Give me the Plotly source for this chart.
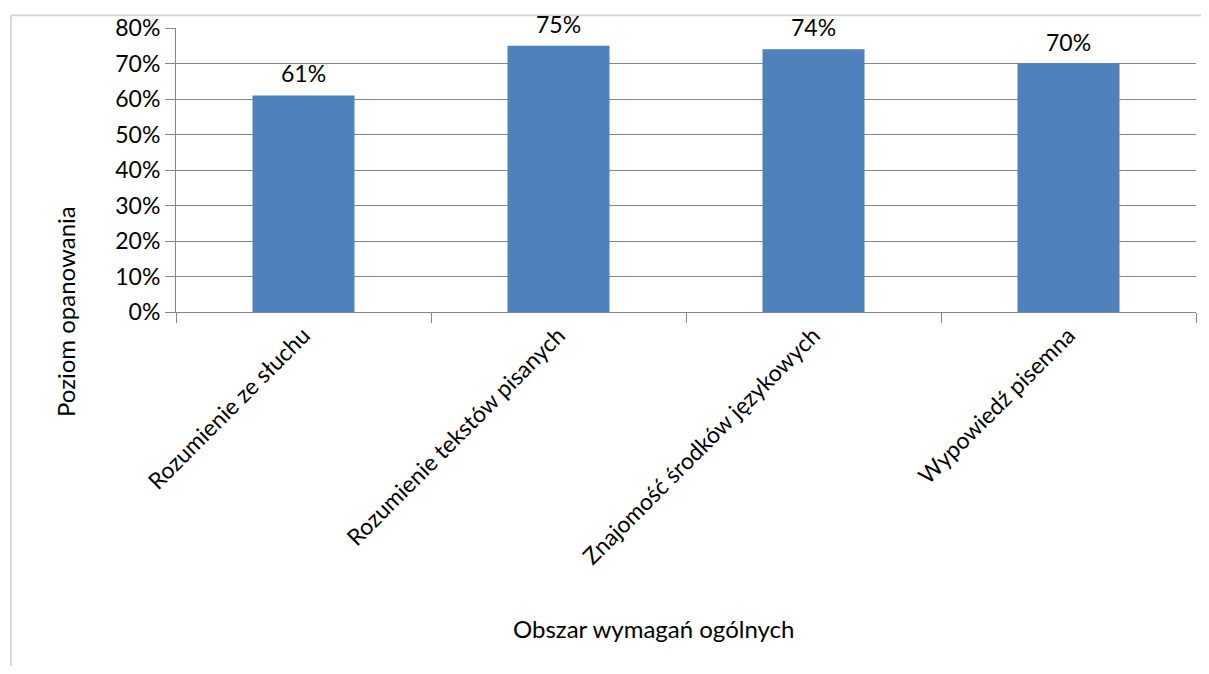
import plotly.graph_objects as go

categories = ["Rozumienie ze słuchu", "Rozumienie tekstów pisanych",
              "Znajomość środków językowych", "Wypowiedź pisemna"]
values = [0.61, 0.75, 0.74, 0.70]
y_ticks = [0, 0.1, 0.2, 0.3, 0.4, 0.5, 0.6, 0.7, 0.8]
y_tick_labels = ["0%", "10%", "20%", "30%", "40%", "50%", "60%", "70%", "80%"]

OFF = 8  # default page body margin
W, H = 1193, 658
ML, MR, MT, MB = 176 - OFF, 5, 25 - OFF, 354
pw = W - ML - MR
ph = H - MT - MB

def px2x(px):
    return (px - OFF - ML) / pw

def py2y(py):
    return (H - MB - (py - OFF)) / ph

FONT = "Lato, Carlito, 'Liberation Sans', sans-serif"
FS = 23
FT = 24
GRAY = "#868686"

fig = go.Figure(go.Bar(
    x=categories, y=values,
    marker=dict(color="#4F81BD", line=dict(width=0)),
))

for c, v in zip(categories, values):
    fig.add_annotation(x=c, y=v, text=f"{round(v * 100)}%", showarrow=False,
                       yanchor="bottom", yshift=6,
                       font=dict(size=FS, color="black", family=FONT))

fig.update_layout(
    width=W, height=H,
    margin=dict(l=ML, r=MR, t=MT, b=MB),
    plot_bgcolor="white", paper_bgcolor="white",
    bargap=0.6, showlegend=False,
    font=dict(family=FONT, size=FS, color="black"),
    xaxis=dict(
        type="category", tickangle=-45, ticks="outside", tickson="boundaries",
        ticklen=10, tickcolor=GRAY, tickwidth=1, showline=True, linecolor=GRAY,
        linewidth=1, showgrid=False, tickfont=dict(size=FS, family=FONT),
    ),
    yaxis=dict(
        range=[0, 0.8], tickvals=y_ticks, ticktext=y_tick_labels,
        ticks="outside", ticklen=10, tickcolor=GRAY, showline=True,
        linecolor=GRAY, linewidth=1, showgrid=True, gridcolor=GRAY,
        gridwidth=1, zeroline=False, tickfont=dict(size=FS, family=FONT),
    ),
)

fig.add_annotation(text="Poziom opanowania", xref="paper", yref="paper",
                   x=px2x(65), y=py2y(312), textangle=-90, showarrow=False,
                   font=dict(size=FT, family=FONT), xanchor="center", yanchor="middle")
fig.add_annotation(text="Obszar wymagań ogólnych", xref="paper", yref="paper",
                   x=px2x(653), y=py2y(632), showarrow=False,
                   font=dict(size=FT, family=FONT), xanchor="center", yanchor="middle")

BORDER = "#d9d9d9"
fig.add_shape(type="line", xref="paper", yref="paper",
              x0=px2x(11), x1=px2x(11), y0=py2y(12), y1=py2y(H + 30),
              line=dict(color=BORDER, width=2))
fig.add_shape(type="line", xref="paper", yref="paper",
              x0=px2x(11), x1=px2x(W + 30), y0=py2y(12), y1=py2y(12),
              line=dict(color=BORDER, width=2))

fig.write_html("out.html")
